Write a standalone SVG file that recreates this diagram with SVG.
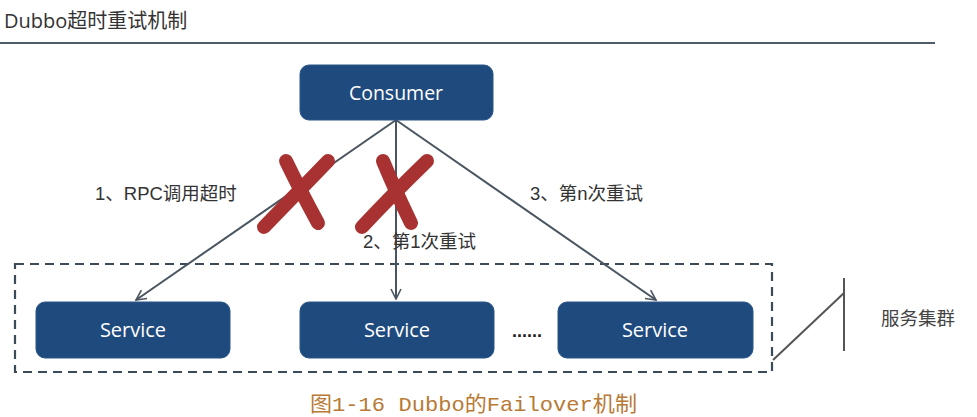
<svg xmlns="http://www.w3.org/2000/svg" width="977" height="417" viewBox="0 0 977 417">
<defs>
<marker id="arr" viewBox="0 0 12 12" refX="11" refY="6" markerWidth="12" markerHeight="12" markerUnits="userSpaceOnUse" orient="auto">
<path d="M1,1 L11,6 L1,11" fill="none" stroke="#4a5560" stroke-width="1.6"/>
</marker>
<style>
.box{fill:#1f4a7e;stroke:#2a5688;stroke-width:1}
.bt{font-family:"Open Sans","Liberation Sans",sans-serif;fill:#ffffff;text-anchor:middle}
.lbl{font-family:"Liberation Sans","Noto Sans CJK SC",sans-serif;font-size:18.5px;fill:#333333}
.edge{stroke:#4a5560;stroke-width:2;fill:none}
.x{stroke:#a83232;stroke-width:14;stroke-linecap:round;fill:none}
</style>
</defs>
<rect width="977" height="417" fill="#ffffff"/>
<text x="4" y="28" font-family="'Open Sans','Noto Sans CJK SC',sans-serif" font-size="20" fill="#333">Dubbo超时重试机制</text>
<line x1="0" y1="43" x2="935" y2="43" stroke="#4f5b68" stroke-width="2.2"/>

<g id="cluster">
<rect x="15" y="264" width="757" height="108" fill="none" stroke="#3d4a58" stroke-width="2.2" stroke-dasharray="9,6"/>
<polyline points="773,360 844,293" fill="none" stroke="#555" stroke-width="2"/>
<line x1="844" y1="278" x2="844" y2="351" stroke="#555" stroke-width="2"/>
<text x="881" y="325" font-family="'Noto Sans CJK SC',sans-serif" font-size="18.5" fill="#444">服务集群</text>
</g>

<g id="connectors">
<line class="edge" x1="396" y1="120" x2="136" y2="300" marker-end="url(#arr)"/>
<line class="edge" x1="396" y1="120" x2="396" y2="299" marker-end="url(#arr)"/>
<line class="edge" x1="396" y1="120" x2="656" y2="300" marker-end="url(#arr)"/>
<text class="lbl" x="95" y="200">1、RPC调用超时</text>
<text class="lbl" x="363" y="248">2、第1次重试</text>
<text class="lbl" x="530" y="200">3、第n次重试</text>
</g>

<g id="cross1">
<path class="x" d="M286,161 Q300,190 318,223"/>
<path class="x" d="M328,161 Q295,195 264,227"/>
</g>
<g id="cross2">
<path class="x" d="M383,161 Q395,190 411,223"/>
<path class="x" d="M427,161 Q392,195 362,227"/>
</g>

<g id="consumer">
<rect class="box" x="300" y="65" width="193" height="55" rx="9"/>
<text class="bt" x="396" y="100" font-size="19.5">Consumer</text>
</g>
<g id="service1">
<rect class="box" x="36" y="302" width="194" height="56" rx="9"/>
<text class="bt" x="133" y="337" font-size="20">Service</text>
</g>
<g id="service2">
<rect class="box" x="300" y="302" width="194" height="56" rx="9"/>
<text class="bt" x="397" y="337" font-size="20">Service</text>
</g>
<text x="527" y="337" font-family="'Liberation Sans',sans-serif" font-size="18" font-weight="bold" fill="#222" text-anchor="middle">......</text>
<g id="service3">
<rect class="box" x="558" y="302" width="195" height="56" rx="9"/>
<text class="bt" x="655" y="337" font-size="20">Service</text>
</g>

<text x="310" y="411" font-family="'Liberation Mono','Noto Sans CJK SC',monospace" font-size="21" fill="#b87a36" textLength="327" lengthAdjust="spacingAndGlyphs">图1-16 Dubbo的Failover机制</text>
</svg>
